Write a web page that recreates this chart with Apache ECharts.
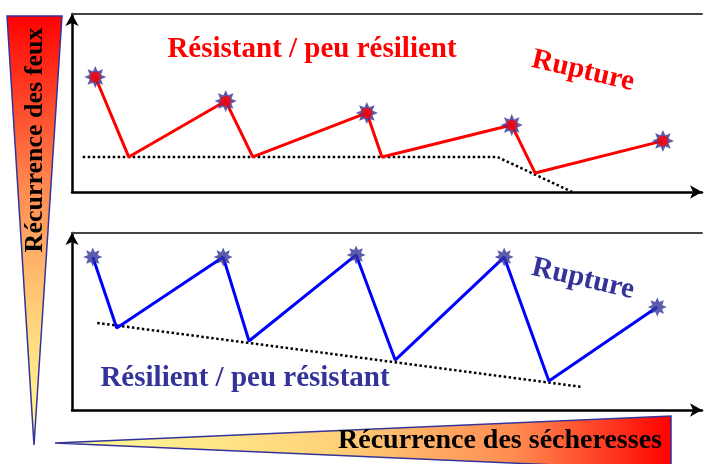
<!DOCTYPE html>
<html>
<head>
<meta charset="utf-8">
<title>Résistance / résilience</title>
<script src="https://cdn.jsdelivr.net/npm/echarts@6/dist/echarts.min.js"></script>
<style>
  html, body { margin: 0; padding: 0; background: #fff; }
  #Canvas { width: 704px; height: 464px; }
</style>
</head>
<body>
<div id="Canvas"></div>
<script>
  // haut : résistant / peu résilient (0-100 sur les deux axes)
  var resistX = [3.7, 9.0, 24.4, 28.7, 46.8, 49.2, 69.8, 73.5, 93.8];
  var resistY = [64.6, 19.7, 51.1, 19.7, 44.4, 19.7, 37.6, 10.7, 28.7];
  var resistFloorX = [1.7, 67.5, 79.4];
  var resistFloorY = [19.7, 19.7, 0];

  // bas : résilient / peu résistant
  var resilX = [3.3, 7.1, 24.0, 28.1, 45.1, 51.3, 68.6, 75.7, 92.9];
  var resilY = [86.4, 46.3, 86.4, 39.0, 87.6, 28.2, 86.4, 16.4, 58.2];
  var resilFloorX = [4.0, 81.0];
  var resilFloorY = [49.2, 13.0];

  var labels = {
    top: 'Résistant / peu résilient',
    bottom: 'Résilient / peu résistant',
    rupture: 'Rupture',
    feux: 'Récurrence des feux',
    seche: 'Récurrence des sécheresses'
  };

  function pairs(xs, ys) {
    var out = [];
    for (var i = 0; i < xs.length; i++) out.push([xs[i], ys[i]]);
    return out;
  }
  // les feux = un point sur deux
  function peaks(xs, ys) {
    var out = [];
    for (var i = 0; i < xs.length; i += 2) out.push([xs[i], ys[i]]);
    return out;
  }

  // étoile à 8 branches
  var star = 'path://';
  for (var k = 0; k < 16; k++) {
    var r = k % 2 === 0 ? 10 : 5.6;
    var a = k * Math.PI / 8 - Math.PI / 2;
    star += (k === 0 ? 'M' : 'L') + (10 + r * Math.cos(a)).toFixed(2) + ' ' + (10 + r * Math.sin(a)).toFixed(2) + ' ';
  }
  star += 'Z';

  var font = '"Liberation Serif", "DejaVu Serif", serif';
  var blue = '#333399';

  function xAxes(grid) {
    return [{
      gridIndex: grid, type: 'value', min: 0, max: 100,
      axisLine: { show: true, symbol: ['none', 'arrow'], symbolSize: [10, 12], lineStyle: { color: '#000', width: 2.5 } },
      axisTick: { show: false }, axisLabel: { show: false }, splitLine: { show: false }
    }, {
      gridIndex: grid, type: 'value', min: 0, max: 100, position: 'top',
      axisLine: { show: true, lineStyle: { color: '#444', width: 2 } },
      axisTick: { show: false }, axisLabel: { show: false }, splitLine: { show: false }
    }];
  }
  function yAxis(grid) {
    return {
      gridIndex: grid, type: 'value', min: 0, max: 100,
      axisLine: { show: true, symbol: ['none', 'arrow'], symbolSize: [10, 12], lineStyle: { color: '#000', width: 2.5 } },
      axisTick: { show: false }, axisLabel: { show: false }, splitLine: { show: false }
    };
  }

  var myChart = echarts.init(document.getElementById('Canvas'));
  var option = {
    animation: false,
    backgroundColor: '#fff',
    grid: [
      { left: 72, right: 2, top: 14, height: 178 },
      { left: 72, right: 2, top: 233, height: 177 }
    ],
    xAxis: xAxes(0).concat(xAxes(1)),
    yAxis: [yAxis(0), yAxis(1)],
    graphic: [
      {
        type: 'polygon', z: 1,
        shape: { points: [[7, 16], [62, 16], [34, 445]] },
        style: {
          fill: new echarts.graphic.LinearGradient(0, 0, 0, 1, [
            { offset: 0, color: '#ff0000' },
            { offset: 0.4, color: '#ff8a50' },
            { offset: 0.7, color: '#ffd27a' },
            { offset: 1, color: '#ffff99' }
          ]),
          stroke: blue, lineWidth: 1.5
        }
      },
      {
        type: 'polygon', z: 1,
        shape: { points: [[55, 443], [671, 416], [671, 470]] },
        style: {
          fill: new echarts.graphic.LinearGradient(0, 0, 1, 0, [
            { offset: 0, color: '#ffff99' },
            { offset: 0.45, color: '#ffd27a' },
            { offset: 0.75, color: '#ff8a50' },
            { offset: 1, color: '#ff0000' }
          ]),
          stroke: blue, lineWidth: 1.5
        }
      },
      {
        type: 'text', x: 35, y: 140, rotation: Math.PI / 2, z: 5,
        style: { text: labels.feux, font: 'bold 26px ' + font, fill: '#000', align: 'center', verticalAlign: 'middle' }
      },
      {
        type: 'text', x: 500, y: 441, z: 5,
        style: { text: labels.seche, font: 'bold 28px ' + font, fill: '#000', align: 'center', verticalAlign: 'middle' }
      },
      {
        type: 'text', x: 312, y: 50, z: 5,
        style: { text: labels.top, font: 'bold 29px ' + font, fill: '#ff0000', align: 'center', verticalAlign: 'middle' }
      },
      {
        type: 'text', x: 583, y: 71, rotation: -0.23, z: 5,
        style: { text: labels.rupture, font: 'bold 29px ' + font, fill: '#ff0000', align: 'center', verticalAlign: 'middle' }
      },
      {
        type: 'text', x: 245, y: 379, z: 5,
        style: { text: labels.bottom, font: 'bold 29px ' + font, fill: blue, align: 'center', verticalAlign: 'middle' }
      },
      {
        type: 'text', x: 583, y: 279, rotation: -0.23, z: 5,
        style: { text: labels.rupture, font: 'bold 29px ' + font, fill: blue, align: 'center', verticalAlign: 'middle' }
      }
    ],
    series: [
      {
        type: 'line', xAxisIndex: 0, yAxisIndex: 0, showSymbol: false,
        lineStyle: { color: '#000', width: 2.5, type: [2.5, 2.5] },
        data: pairs(resistFloorX, resistFloorY)
      },
      {
        type: 'line', xAxisIndex: 0, yAxisIndex: 0, showSymbol: false,
        lineStyle: { color: '#ff0000', width: 3 },
        data: pairs(resistX, resistY)
      },
      {
        type: 'scatter', xAxisIndex: 0, yAxisIndex: 0, symbol: star, symbolSize: 22, z: 5,
        itemStyle: { color: blue }, data: peaks(resistX, resistY)
      },
      {
        type: 'scatter', xAxisIndex: 0, yAxisIndex: 0, symbol: 'circle', symbolSize: 11, z: 6,
        itemStyle: { color: '#ff0000' }, data: peaks(resistX, resistY)
      },
      {
        type: 'line', xAxisIndex: 2, yAxisIndex: 1, showSymbol: false,
        lineStyle: { color: '#000', width: 2.5, type: [2.5, 2.5] },
        data: pairs(resilFloorX, resilFloorY)
      },
      {
        type: 'line', xAxisIndex: 2, yAxisIndex: 1, showSymbol: false,
        lineStyle: { color: '#0000ff', width: 3 },
        data: pairs(resilX, resilY)
      },
      {
        type: 'scatter', xAxisIndex: 2, yAxisIndex: 1, symbol: star, symbolSize: 19, z: 5,
        itemStyle: { color: blue }, data: peaks(resilX, resilY)
      }
    ]
  };
  myChart.setOption(option);
</script>
</body>
</html>
